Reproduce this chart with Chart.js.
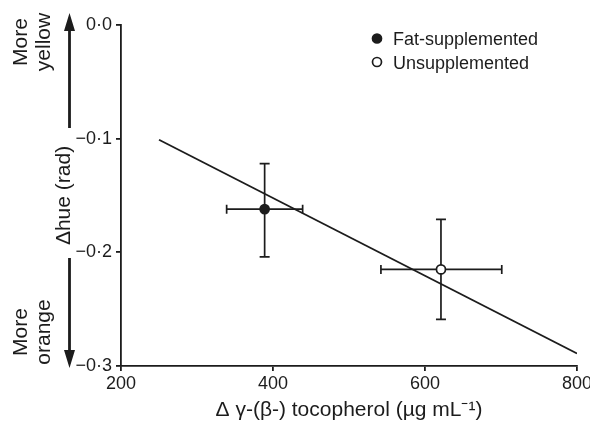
<!DOCTYPE html>
<html>
<head>
<meta charset="utf-8">
<script src="https://cdn.jsdelivr.net/npm/chart.js@4/dist/chart.umd.min.js"></script>
<style>
  html, body { margin: 0; padding: 0; background: #fff; }
  #wrap { width: 590px; height: 421px; position: relative; }
</style>
</head>
<body>
<div id="wrap"><canvas id="hueChart"></canvas></div>
<script>
'use strict';

// ── Data ───────────────────────────────────────────────────────────────────
const GROUPS = ['Fat-supplemented', 'Unsupplemented'];
const TOCO_MEAN = [389, 621];          // Δ γ-(β-) tocopherol, µg/mL
const TOCO_LOW = [339, 542];
const TOCO_HIGH = [439, 701];
const HUE_MEAN = [-0.162, -0.215];     // Δ hue, rad
const HUE_LOW = [-0.204, -0.259];
const HUE_HIGH = [-0.122, -0.171];
const FIT_X = [250, 800];              // regression line end points
const FIT_Y = [-0.101, -0.289];
const X_TICKS = [200, 400, 600, 800];
const Y_TICKS = [0, -0.1, -0.2, -0.3];

const INK = '#1c1c1c';
const FONT = 'Liberation Sans, Arial, Helvetica, sans-serif';
const FILLS = ['#1c1c1c', '#ffffff'];

// "0·0", "−0·1" style labels
function hueLabel(v) {
    const s = Math.abs(v).toFixed(1).replace('.', '\u00b7');
    return (v < -1e-9 ? '\u2212' : '') + s;
}

/**
 * errorBars
 * Draws x and y error bars for each group before the points go on top.
 */
const errorBars = {
    id: 'errorBars',
    beforeDatasetsDraw(chart) {
        const { ctx, scales: { x, y } } = chart;
        ctx.save();
        ctx.strokeStyle = INK;
        ctx.lineWidth = 1.7;
        GROUPS.forEach((g, i) => {
            const px = x.getPixelForValue(TOCO_MEAN[i]);
            const py = y.getPixelForValue(HUE_MEAN[i]);
            const x0 = x.getPixelForValue(TOCO_LOW[i]);
            const x1 = x.getPixelForValue(TOCO_HIGH[i]);
            const y0 = y.getPixelForValue(HUE_LOW[i]);
            const y1 = y.getPixelForValue(HUE_HIGH[i]);
            ctx.beginPath();
            ctx.moveTo(px, y0); ctx.lineTo(px, y1);
            ctx.moveTo(px - 5, y0); ctx.lineTo(px + 5, y0);
            ctx.moveTo(px - 5, y1); ctx.lineTo(px + 5, y1);
            ctx.moveTo(x0, py); ctx.lineTo(x1, py);
            ctx.moveTo(x0, py - 4.5); ctx.lineTo(x0, py + 4.5);
            ctx.moveTo(x1, py - 4.5); ctx.lineTo(x1, py + 4.5);
            ctx.stroke();
        });
        ctx.restore();
    },
};

/**
 * sideNotes
 * Legend box plus the "More yellow / More orange" arrows left of the y axis.
 */
const sideNotes = {
    id: 'sideNotes',
    afterDraw(chart) {
        const ctx = chart.ctx;
        ctx.save();
        ctx.fillStyle = INK;
        ctx.strokeStyle = INK;

        // legend
        ctx.font = '18px ' + FONT;
        GROUPS.forEach((g, i) => {
            const cy = 38.5 + i * 23.5;
            ctx.beginPath();
            ctx.arc(377, cy, 4.5, 0, Math.PI * 2);
            ctx.fillStyle = FILLS[i];
            ctx.fill();
            ctx.lineWidth = 1.7;
            ctx.stroke();
            ctx.fillStyle = INK;
            ctx.textAlign = 'left';
            ctx.textBaseline = 'alphabetic';
            ctx.fillText(g, 393, cy + 6.5);
        });

        // arrows
        const ax = 69.5;
        ctx.lineWidth = 2.8;
        ctx.beginPath();
        ctx.moveTo(ax, 128); ctx.lineTo(ax, 28);
        ctx.moveTo(ax, 258); ctx.lineTo(ax, 352);
        ctx.stroke();
        ctx.beginPath();
        ctx.moveTo(ax, 13); ctx.lineTo(ax - 5.5, 31); ctx.lineTo(ax + 5.5, 31); ctx.closePath();
        ctx.moveTo(ax, 368); ctx.lineTo(ax - 5.5, 350); ctx.lineTo(ax + 5.5, 350); ctx.closePath();
        ctx.fill();

        // rotated notes
        ctx.font = '21px ' + FONT;
        const note = (text, bx, cy) => {
            ctx.save();
            ctx.translate(bx, cy);
            ctx.rotate(-Math.PI / 2);
            ctx.textAlign = 'center';
            ctx.textBaseline = 'alphabetic';
            ctx.fillText(text, 0, 0);
            ctx.restore();
        };
        note('More', 27, 42);
        note('yellow', 50, 42);
        note('More', 27, 332);
        note('orange', 50, 332);
        ctx.restore();
    },
};

// ── Chart ──────────────────────────────────────────────────────────────────
function initHueChart(canvasId) {
    const el = document.getElementById(canvasId);
    if (!el) return;
    Chart.defaults.font.family = FONT;
    Chart.defaults.color = INK;
    new Chart(el, {
        type: 'scatter',
        data: {
            datasets: [{
                label: 'Groups',
                data: GROUPS.map((g, i) => ({ x: TOCO_MEAN[i], y: HUE_MEAN[i] })),
                backgroundColor: FILLS,
                borderColor: INK,
                borderWidth: 1.7,
                pointRadius: 4.5,
                order: 0,
            }, {
                label: 'Fit',
                data: FIT_X.map((v, i) => ({ x: v, y: FIT_Y[i] })),
                showLine: true,
                borderColor: INK,
                borderWidth: 1.8,
                pointRadius: 0,
                fill: false,
                order: 1,
            }],
        },
        options: {
            responsive: true,
            maintainAspectRatio: false,
            animation: false,
            events: [],
            layout: { padding: { top: 25, right: 13, left: 0, bottom: 0 } },
            plugins: { legend: { display: false }, tooltip: { enabled: false } },
            scales: {
                x: {
                    type: 'linear',
                    min: 200, max: 800,
                    afterBuildTicks: s => { s.ticks = X_TICKS.map(v => ({ value: v })); },
                    afterFit: s => { s.height = 55; s.paddingLeft = 0; s.paddingRight = 0; },
                    grid: { drawOnChartArea: false, drawTicks: true, tickLength: 5, color: INK, lineWidth: 1.8 },
                    border: { display: true, color: INK, width: 1.8 },
                    ticks: { font: { size: 18 }, color: INK, padding: 2, maxRotation: 0 },
                    title: {
                        display: true,
                        text: '\u0394 \u03b3-(\u03b2-) tocopherol (\u00b5g mL\u207b\u00b9)',
                        font: { size: 21, lineHeight: 1 }, color: INK,
                        padding: { top: 0, bottom: 0 },
                    },
                },
                y: {
                    type: 'linear',
                    min: -0.3, max: 0,
                    afterBuildTicks: s => { s.ticks = Y_TICKS.map(v => ({ value: v })); },
                    afterFit: s => { s.width = 121; s.paddingTop = 0; s.paddingBottom = 0; },
                    grid: { drawOnChartArea: false, drawTicks: true, tickLength: 5, color: INK, lineWidth: 1.8 },
                    border: { display: true, color: INK, width: 1.8 },
                    ticks: { font: { size: 18 }, color: INK, padding: 4, callback: hueLabel },
                    title: {
                        display: true,
                        text: '\u0394hue (rad)',
                        font: { size: 21, lineHeight: 1 }, color: INK,
                        padding: { top: 54, bottom: 0 },
                    },
                },
            },
        },
        plugins: [errorBars, sideNotes],
    });
}

initHueChart('hueChart');
</script>
</body>
</html>
